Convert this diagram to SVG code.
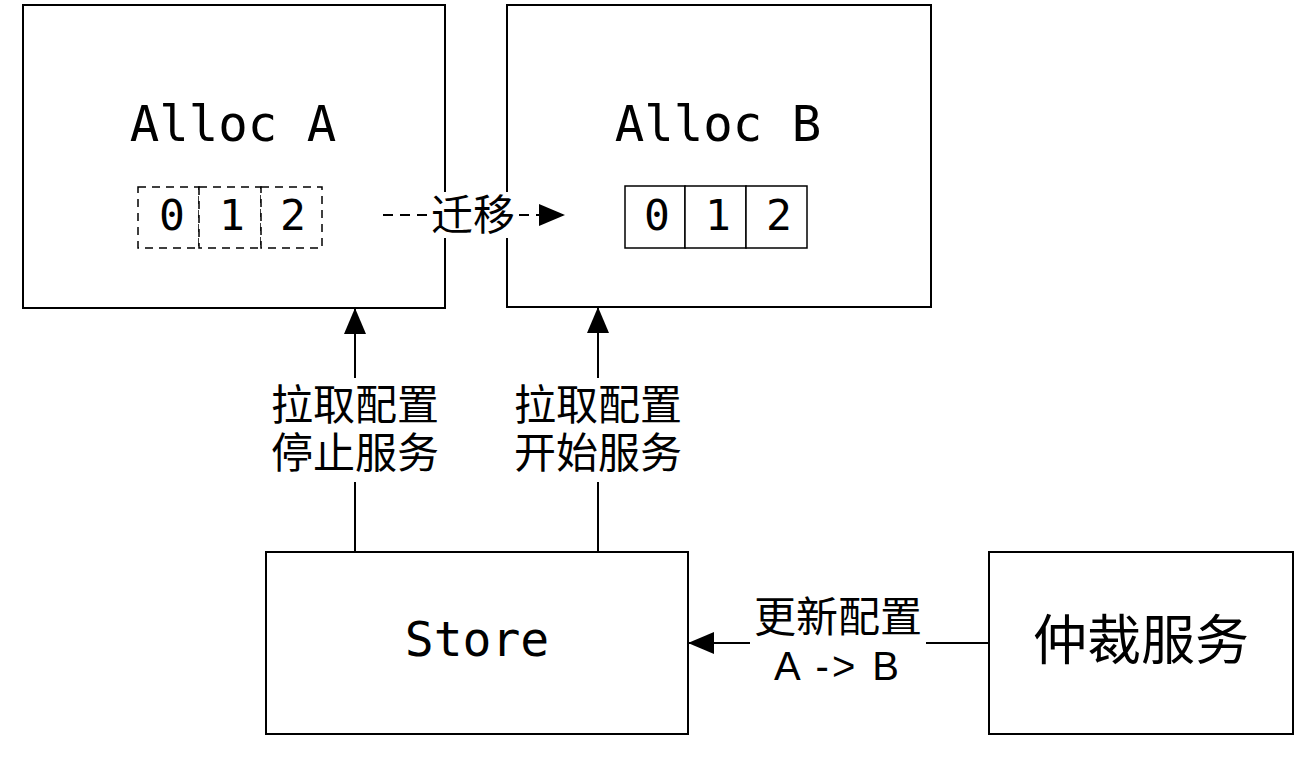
<svg xmlns="http://www.w3.org/2000/svg" width="1310" height="758" viewBox="0 0 1310 758">
<defs>
<style>
.box{fill:#fff;stroke:#000;stroke-width:2}
.mono{font-family:"DejaVu Sans Mono","Liberation Mono",monospace;fill:#000;text-anchor:middle}
.cjk{font-family:"Liberation Sans","Noto Sans CJK SC",sans-serif;fill:#000;text-anchor:middle}
.line{stroke:#000;stroke-width:2;fill:none}
.cell{fill:#fff;stroke:#000;stroke-width:1.5}
.dcell{fill:#fff;stroke:#000;stroke-width:1.5;stroke-dasharray:8 6}
</style>
<marker id="arrB" markerWidth="26" markerHeight="26" viewBox="0 0 26 26" refX="26" refY="13" orient="auto" markerUnits="userSpaceOnUse">
<path d="M0,2 L26,13 L0,24 Z" fill="#000"/>
</marker>
</defs>
<rect width="1310" height="758" fill="#fff"/>
<g id="allocA">
<rect class="box" x="23" y="5" width="422" height="303"/>
<text class="mono" x="233" y="141" font-size="49">Alloc A</text>
<rect class="dcell" x="138" y="187" width="61" height="61"/>
<rect class="dcell" x="199" y="187" width="62" height="61"/>
<rect class="dcell" x="261" y="187" width="61" height="61"/>
<text class="mono" x="172" y="230" font-size="43">0</text>
<text class="mono" x="232" y="230" font-size="43">1</text>
<text class="mono" x="293" y="230" font-size="43">2</text>
</g>
<g id="allocB">
<rect class="box" x="507" y="5" width="424" height="302"/>
<text class="mono" x="718" y="141" font-size="49">Alloc B</text>
<rect class="cell" x="625" y="186" width="60" height="62"/>
<rect class="cell" x="685" y="186" width="61" height="62"/>
<rect class="cell" x="746" y="186" width="61" height="62"/>
<text class="mono" x="657" y="230" font-size="43">0</text>
<text class="mono" x="718" y="230" font-size="43">1</text>
<text class="mono" x="779" y="230" font-size="43">2</text>
</g>
<g id="store">
<rect class="box" x="266" y="552" width="422" height="182"/>
<text class="mono" x="477" y="656" font-size="48">Store</text>
</g>
<g id="arbiter">
<rect class="box" x="989" y="552" width="304" height="182"/>
<text class="cjk" x="1141" y="660" font-size="54">仲裁服务</text>
</g>
<g id="connectors">
<line class="line" x1="383" y1="215" x2="565" y2="215" stroke-dasharray="10 7" marker-end="url(#arrB)"/>
<rect x="428" y="192" width="90" height="46" fill="#fff"/>
<text class="cjk" x="473" y="230" font-size="42">迁移</text>
<line class="line" x1="355" y1="552" x2="355" y2="308" marker-end="url(#arrB)"/>
<rect x="264" y="378" width="182" height="104" fill="#fff"/>
<text class="cjk" x="355" y="420" font-size="42">拉取配置</text>
<text class="cjk" x="355" y="468" font-size="42">停止服务</text>
<line class="line" x1="598" y1="552" x2="598" y2="307" marker-end="url(#arrB)"/>
<rect x="507" y="378" width="182" height="104" fill="#fff"/>
<text class="cjk" x="598" y="420" font-size="42">拉取配置</text>
<text class="cjk" x="598" y="468" font-size="42">开始服务</text>
<line class="line" x1="989" y1="643" x2="688" y2="643" marker-end="url(#arrB)"/>
<rect x="750" y="592" width="176" height="98" fill="#fff"/>
<text class="cjk" x="838" y="632" font-size="42">更新配置</text>
<text class="cjk" x="838" y="680" font-size="40" letter-spacing="3">A -&gt; B</text>
</g>
</svg>
